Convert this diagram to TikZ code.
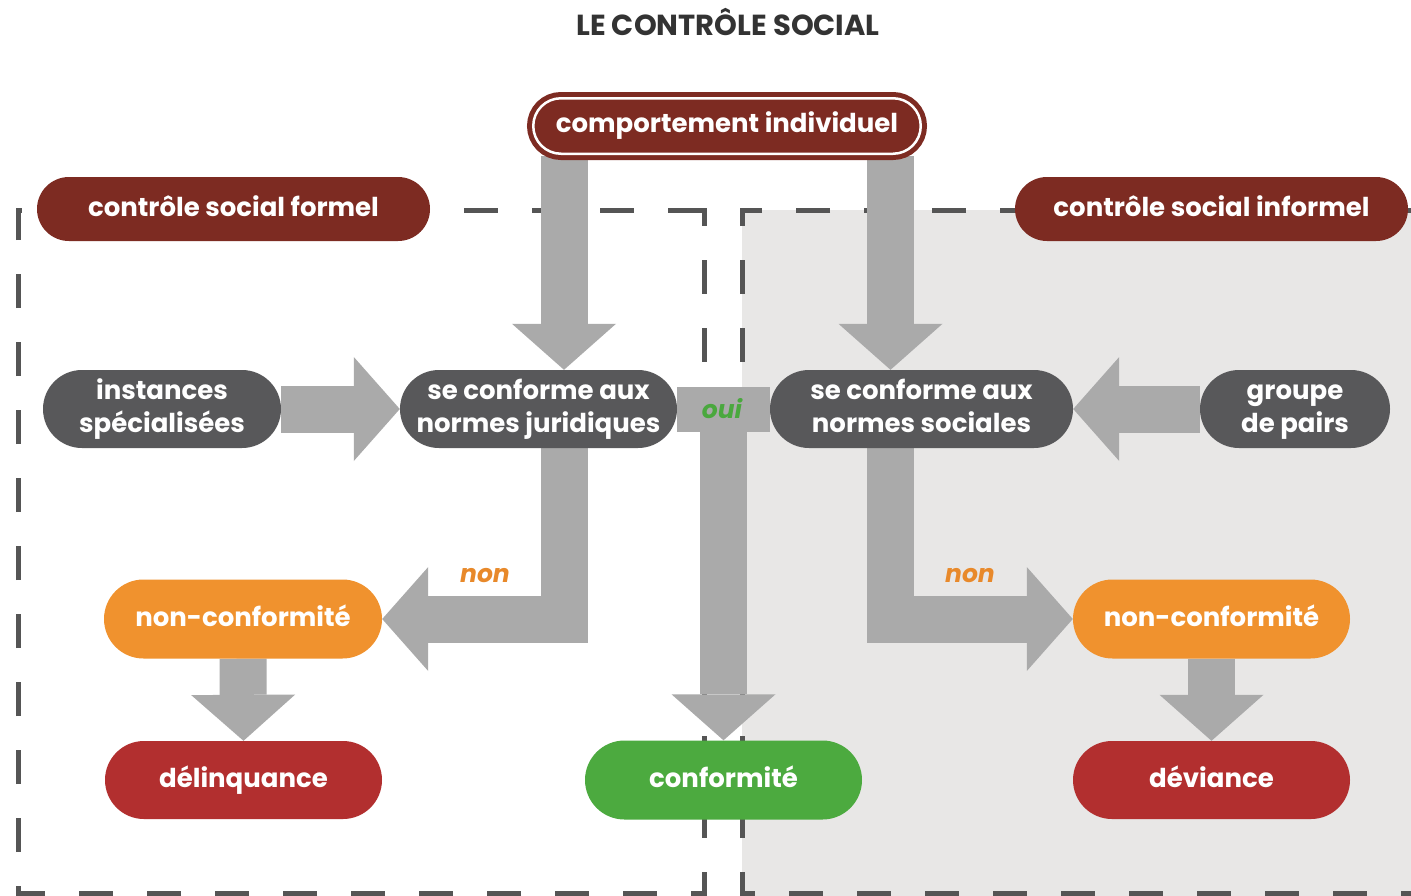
\documentclass[tikz,border=0pt]{standalone}
\usepackage{fontspec}
\setmainfont{Poppins}
\usetikzlibrary{arrows.meta,shapes.misc}
\definecolor{dred}{HTML}{7D2B22}
\definecolor{ngray}{HTML}{58585A}
\definecolor{orng}{HTML}{F0922E}
\definecolor{rred}{HTML}{B22F2F}
\definecolor{grn}{HTML}{4CAA3F}
\definecolor{agray}{HTML}{AAAAAA}
\definecolor{bggray}{HTML}{E8E7E6}
\definecolor{dashgray}{HTML}{555555}
\definecolor{ouigreen}{HTML}{4AA83E}
\definecolor{nonorange}{HTML}{E8892A}
\definecolor{titlegray}{HTML}{333333}
\newcommand\lstrut{\rule[-0.22em]{0pt}{1em}}
\pgfdeclarelayer{back}
\pgfdeclarelayer{mid}
\pgfsetlayers{back,mid,main}
\tikzset{
  pill/.style={rounded rectangle, inner sep=0pt, text=white,
    font=\bfseries\fontsize{26}{33}\selectfont, align=center},
  garrow/.style={draw=agray, line width=47pt, line join=miter,
    -{Triangle[length=46pt,width=104pt,line width=0pt]}},
  gbar/.style={draw=agray, line width=45pt},
  dashbox/.style={draw=dashgray, line width=5pt, dash pattern=on 34pt off 34pt},
  lbl/.style={font=\bfseries\itshape\fontsize{25}{28}\selectfont}
}
\begin{document}
\begin{tikzpicture}[x=1pt,y=-1pt]
\useasboundingbox (0,0) rectangle (1411,895);
% nodes
\node[font=\bfseries\fontsize{29}{32}\selectfont, text=titlegray] (title) at (728,22) {LE CONTRÔLE SOCIAL};
\node[pill, fill=dred, draw=dred, double=white, double distance=2.5pt, line width=5pt,
  minimum width=387.5pt, minimum height=55.5pt] (comp) at (727,126) {\lstrut comportement individuel};
\node[pill, fill=dred, minimum width=393pt, minimum height=64pt] (cf) at (233.5,209) {\lstrut contrôle social formel};
\node[pill, fill=dred, minimum width=393pt, minimum height=64pt] (ci) at (1211.5,209) {\lstrut contrôle social informel};
\node[pill, fill=ngray, minimum width=238pt, minimum height=78pt] (inst) at (162,409) {\lstrut instances\\\lstrut spécialisées};
\node[pill, fill=ngray, minimum width=277pt, minimum height=78pt] (jur) at (538.5,409) {\lstrut se conforme aux\\\lstrut normes juridiques};
\node[pill, fill=ngray, minimum width=303pt, minimum height=78pt] (soc) at (921.5,409) {\lstrut se conforme aux\\\lstrut normes sociales};
\node[pill, fill=ngray, minimum width=190pt, minimum height=78pt] (grp) at (1295,409) {\lstrut groupe\\\lstrut de pairs};
\node[pill, fill=orng, minimum width=278pt, minimum height=79pt] (ncl) at (243,619) {\lstrut non-conformité};
\node[pill, fill=orng, minimum width=277pt, minimum height=79pt] (ncr) at (1211.5,619) {\lstrut non-conformité};
\node[pill, fill=rred, minimum width=277pt, minimum height=78pt] (del) at (243.5,780) {\lstrut délinquance};
\node[pill, fill=rred, minimum width=277pt, minimum height=78pt] (dev) at (1211.5,780) {\lstrut déviance};
\node[pill, fill=grn, minimum width=277pt, minimum height=79pt] (conf) at (723.5,780) {\lstrut conformité};
\node[lbl, text=ouigreen] (oui) at (722,409) {oui};
\node[lbl, text=nonorange] (nonl) at (485,576) {non};
\node[lbl, text=nonorange] (nonr) at (970,576) {non};
% background
\begin{pgfonlayer}{back}
\fill[white] (0,0) rectangle (1411,895);
\fill[bggray] (742,210) rectangle (1420,900);
\draw[dashbox] (686,210) -- (704,210) -- (704,893) -- (18,893) -- (18,210) -- cycle;
\draw[dashbox] (760,210) -- (742,210) -- (742,893) -- (1420,893) -- (1420,210) -- cycle;
\end{pgfonlayer}
% arrows
\begin{pgfonlayer}{mid}
\coordinate (xl) at (564,0);
\coordinate (xr) at (890.5,0);
\draw[garrow] (comp.south -| xl) -- (jur.north -| xl);
\draw[garrow] (comp.south -| xr) -- (soc.north -| xr);
\draw[garrow] (inst.east) -- (jur.west);
\draw[garrow] (grp.west) -- (soc.east);
\draw[garrow] (jur.south -| xl) |- (ncl.east);
\draw[garrow] (soc.south -| xr) |- (ncr.west);
\draw[gbar] (jur.east) -- (soc.west);
\draw[garrow] (conf.north |- jur.east) -- (conf.north);
\draw[garrow] (ncl.south) -- (del.north);
\draw[garrow] (ncr.south) -- (dev.north);
\end{pgfonlayer}
\end{tikzpicture}
\end{document}
